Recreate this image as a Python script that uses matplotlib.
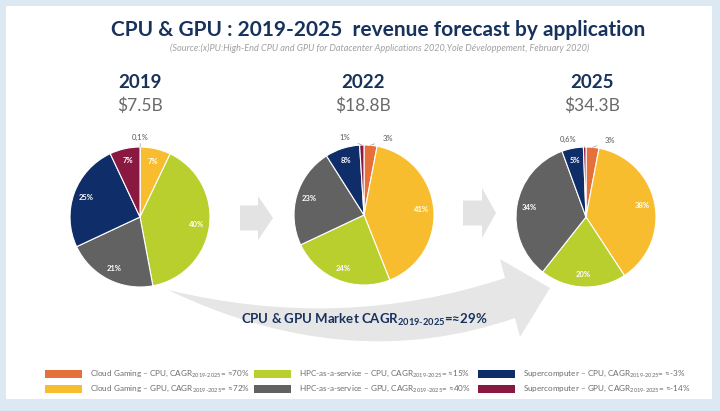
import matplotlib.pyplot as plt
import matplotlib.patches as mpatches
from matplotlib.path import Path
import numpy as np

plt.rcParams['font.family'] = ['Lato', 'DejaVu Sans']
plt.rcParams['mathtext.fontset'] = 'custom'
plt.rcParams['mathtext.rm'] = 'Lato'
plt.rcParams['mathtext.bf'] = 'Lato:bold'
plt.rcParams['mathtext.it'] = 'Lato:italic'

# data
categories = ["Cloud Gaming – CPU", "Cloud Gaming – GPU",
              "HPC-as-a-service – CPU", "HPC-as-a-service – GPU",
              "Supercomputer – CPU", "Supercomputer – GPU"]
cagr = ["≈70%", "≈72%", "≈15%", "≈40%", "≈-3%", "≈-14%"]
years = ["2019", "2022", "2025"]
revenue = ["$7.5B", "$18.8B", "$34.3B"]
share_2019 = [0.1, 7, 40, 21, 25, 7]
share_2022 = [3, 41, 24, 23, 8, 1]
share_2025 = [3, 38, 20, 34, 5, 0.6]
market_cagr = "≈29%"

colors = ['#E5703A', '#F8BD2E', '#B8CF2E', '#626262', '#0F2D68', '#8A1941']
navy = '#17325C'
W, H = 720, 411

fig = plt.figure(figsize=(W / 100, H / 100), dpi=100)
fig.patch.set_facecolor('#DCE8F2')

# background axes in pixel coordinates
bg = fig.add_axes([0, 0, 1, 1])
bg.set_xlim(0, W)
bg.set_ylim(H, 0)
bg.axis('off')
bg.add_patch(mpatches.Rectangle((6, 6), 706, 393, facecolor='white', edgecolor='none'))

bg.text(378, 30, "CPU & GPU : 2019-2025  revenue forecast by application",
        ha='center', va='center', fontsize=15, fontweight='bold', color=navy)
bg.text(380, 48, "(Source:(x)PU:High-End CPU and GPU for Datacenter Applications 2020,"
        "Yole Développement, February 2020)",
        ha='center', va='center', fontsize=6.6, style='italic', color='#a0a0a0')

# chevron arrows between pies
arrow_col = '#E3E3E3'
for x0, yc, body_len, head_len, body_w, head_w in [(240, 218, 18, 15, 25, 44),
                                                   (463, 213, 19, 14, 25, 50)]:
    bg.add_patch(mpatches.FancyArrow(x0, yc, body_len + head_len, 0, width=body_w,
                                     head_width=head_w, head_length=head_len,
                                     length_includes_head=True, color=arrow_col, lw=0))

# big curved arrow
verts = [(168, 290), (343, 332), (505, 278), (500, 259), (550, 288), (520, 337),
         (515, 318), (348, 376), (168, 290)]
codes = [Path.MOVETO, Path.CURVE3, Path.CURVE3, Path.LINETO, Path.LINETO, Path.LINETO,
         Path.LINETO, Path.CURVE3, Path.CURVE3]
bg.add_patch(mpatches.PathPatch(Path(verts, codes), facecolor='#E6E6E6', edgecolor='none'))
bg.text(364, 320, "CPU & GPU Market CAGR$_{\\mathbf{2019\\text{-}2025}}$=" + market_cagr,
        ha='center', va='center', fontsize=9.5, fontweight='bold', color=navy)

# pies
shares = [share_2019, share_2022, share_2025]
centers = [(140, 217), (364, 215), (586, 217)]
year_x = [140, 363, 592]
R = 70
pad = 1.3

for k, (vals, (cx, cy)) in enumerate(zip(shares, centers)):
    bg.text(year_x[k], 83, years[k], ha='center', va='center', fontsize=13.5,
            fontweight='bold', color=navy)
    bg.text(year_x[k], 106, revenue[k], ha='center', va='center', fontsize=12.5,
            color='#6a6a6a')

    ax = fig.add_axes([(cx - pad * R) / W, 1 - (cy + pad * R) / H,
                       2 * pad * R / W, 2 * pad * R / H])
    wedges, _ = ax.pie(vals, colors=colors, startangle=90, counterclock=False,
                       wedgeprops=dict(edgecolor='white', linewidth=0.8))
    ax.set_xlim(-pad, pad)
    ax.set_ylim(-pad, pad)
    ax.axis('off')

    small = [i for i, v in enumerate(vals) if v < 5]
    for i, (w, v) in enumerate(zip(wedges, vals)):
        mid = np.deg2rad((w.theta1 + w.theta2) / 2)
        txt = f"{v:g}%".replace('.', ',')
        if v >= 5:
            ax.text(0.82 * np.cos(mid), 0.82 * np.sin(mid), txt, ha='center', va='center',
                    fontsize=5.5, fontweight='bold', color='white')
        else:
            shift = 0
            if len(small) > 1:
                shift = -12 if i == 0 else 12
            ang = mid + np.deg2rad(shift)
            ax.annotate(txt, xy=(np.cos(mid), np.sin(mid)),
                        xytext=(1.14 * np.cos(ang), 1.14 * np.sin(ang)),
                        ha='center', va='center', fontsize=5.5, color='#555555',
                        arrowprops=dict(arrowstyle='-', color='#9a9a9a', lw=0.5,
                                        shrinkA=4, shrinkB=0))

# legend
legend_x = [45, 254, 478]
legend_y = [374, 389]
for i, (name, c) in enumerate(zip(categories, cagr)):
    x = legend_x[i // 2]
    y = legend_y[i % 2]
    bg.add_patch(mpatches.Rectangle((x, y - 4), 37, 8, facecolor=colors[i], edgecolor='none'))
    bg.text(x + 45, y, name + ", CAGR$_{2019\\text{-}2025}$= " + c, ha='left', va='center',
            fontsize=5.9, color='#6d6d6d')

fig.savefig('out.png', dpi=100, facecolor=fig.get_facecolor())
